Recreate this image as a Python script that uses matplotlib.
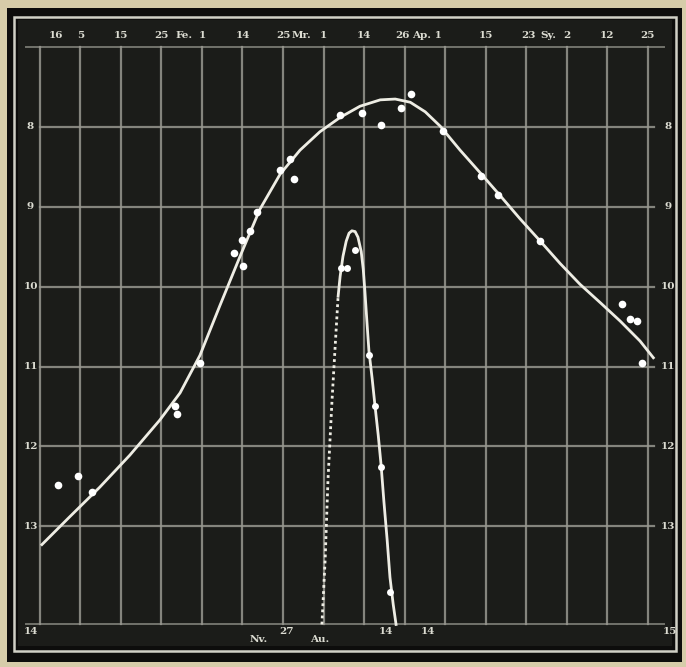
import matplotlib.pyplot as plt
from matplotlib.patches import Rectangle

# Lichtkurven: x in Tagen (10 Tage je Gitterfeld), y in Groessenklassen
mira_tag = [4.4, 9.4, 12.8, 33.3, 33.8, 39.5, 47.9, 50.1, 49.9, 51.9, 53.6,
            59.3, 61.7, 62.7, 74.1, 79.5, 84.2, 89.1, 91.6, 99.5, 108.9,
            113.1, 123.5, 143.7, 145.7, 147.4, 148.6]
mira_mag = [12.48, 12.37, 12.57, 11.49, 11.60, 10.95, 9.58, 9.74, 9.41, 9.30,
            9.06, 8.54, 8.40, 8.65, 7.85, 7.83, 7.98, 7.76, 7.59, 8.05, 8.61,
            8.85, 9.43, 10.22, 10.40, 10.43, 10.95]

mira_kurve_tag = [0.5, 7.4, 14.8, 22.2, 29.6, 34.6, 39.5, 44.4, 49.4, 54.3,
                  59.3, 64.2, 69.1, 74.1, 79.0, 84.0, 87.7, 91.4, 95.1, 98.8,
                  103.7, 108.6, 113.6, 118.5, 123.5, 128.4, 133.3, 138.3,
                  143.2, 148.1, 151.4]
mira_kurve_mag = [13.23, 12.88, 12.51, 12.11, 11.67, 11.33, 10.86, 10.24,
                  9.62, 9.03, 8.59, 8.29, 8.06, 7.88, 7.74, 7.66, 7.65, 7.69,
                  7.81, 7.99, 8.29, 8.57, 8.86, 9.15, 9.43, 9.71, 9.97, 10.20,
                  10.43, 10.68, 10.89]

nova_tag = [74.3, 75.8, 77.8, 81.2, 82.7, 84.2, 86.4]
nova_mag = [9.76, 9.76, 9.54, 10.86, 11.49, 12.26, 13.82]

# ansteigender Ast (nur vermutet, punktiert)
nova_anstieg_tag = [69.6, 70.4, 71.1, 72.1, 73.1, 73.6]
nova_anstieg_mag = [14.23, 13.42, 12.42, 11.42, 10.55, 10.12]

nova_kurve_tag = [73.6, 74.1, 74.8, 75.6, 76.3, 77.0, 77.8, 78.5, 79.3, 79.8,
                  80.2, 80.7, 81.2, 82.0, 82.7, 83.5, 84.2, 84.9, 85.7, 86.4,
                  87.2, 87.9]
nova_kurve_mag = [10.12, 9.87, 9.62, 9.43, 9.33, 9.30, 9.31, 9.38, 9.56, 9.78,
                  10.05, 10.43, 10.80, 11.15, 11.49, 11.86, 12.23, 12.69,
                  13.17, 13.64, 13.98, 14.23]

# Beschriftungen
groessen = [8, 9, 10, 11, 12, 13]
oben_tag = [4.0, 10.0, 20.0, 30.0, 35.5, 40.0, 50.0, 60.0, 64.5, 70.0, 80.0,
            89.5, 95.5, 110.0, 120.5, 125.5, 130.0, 140.0, 150.0]
oben_text = ['16', '5', '15', '25', 'Fe.', '1', '14', '25', 'Mr.', '1', '14',
             '26', 'Ap. 1', '15', '23', 'Sy.', '2', '12', '25']
unten_tag = [-2.2, 60.8, 85.5, 95.8, 155.5]
unten_text = ['14', '27', '14', '14', '15']

hell = '#eeede4'
gitter = '#97978f'

fig = plt.figure(figsize=(6.86, 6.67), dpi=100)
fig.patch.set_facecolor('#d6cca9')

# schwarzer Rahmen und weisse Randlinie
fig.patches.append(Rectangle((7 / 686, 1 - 662 / 667), 675 / 686, 654 / 667,
                             transform=fig.transFigure, facecolor='#0d0d0c',
                             edgecolor='none', zorder=-2))
fig.patches.append(Rectangle((14 / 686, 1 - 651 / 667), 662 / 686, 634 / 667,
                             transform=fig.transFigure, facecolor='none',
                             edgecolor='#d0d0c6', lw=1.8, zorder=-1))

ax = fig.add_axes([18 / 686, 1 - 646 / 667, 654 / 686, 626 / 667])
ax.set_facecolor('#1b1c19')
ax.set_xlim(-5.4, 156.0)
ax.set_ylim(14.50, 6.66)
ax.set_xticks([])
ax.set_yticks([])
for sp in ax.spines.values():
    sp.set_visible(False)

# Gitter
for t in range(0, 151, 10):
    ax.plot([t, t], [7.0, 14.23], color=gitter, lw=1.6, alpha=0.85, zorder=1)
for m in groessen:
    ax.plot([0, 151.5], [m, m], color=gitter, lw=1.6, alpha=0.85, zorder=1)
ax.plot([-3.5, 154], [7.0, 7.0], color=gitter, lw=1.4, alpha=0.7, zorder=1)
ax.plot([-3.5, 154], [14.23, 14.23], color=gitter, lw=1.4, alpha=0.7, zorder=1)

# Kurven
ax.plot(mira_kurve_tag, mira_kurve_mag, color=hell, lw=2.0, zorder=3,
        solid_joinstyle='round')
ax.plot(nova_kurve_tag, nova_kurve_mag, color=hell, lw=2.0, zorder=3,
        solid_joinstyle='round')
ax.plot(nova_anstieg_tag, nova_anstieg_mag, color=hell, lw=2.0,
        linestyle=(0, (1, 1.2)), zorder=3)

ax.plot(mira_tag, mira_mag, 'o', color='white', ms=5.5, mec='none', zorder=4)
ax.plot(nova_tag, nova_mag, 'o', color='white', ms=5.0, mec='none', zorder=4)

schrift = dict(color='#dcdcd2', fontsize=7.5, fontweight='bold',
               family='DejaVu Serif', ha='center', va='center', zorder=5)
for m in groessen:
    ax.text(-2.3, m, str(m), **schrift)
    ax.text(155.0, m, str(m), **schrift)
for t, s in zip(oben_tag, oben_text):
    ax.text(t, 6.86, s, **schrift)
for t, s in zip(unten_tag, unten_text):
    ax.text(t, 14.32, s, **schrift)
ax.text(54.0, 14.42, 'Nv.', **schrift)
ax.text(69.0, 14.42, 'Au.', **schrift)

fig.savefig('out.png', dpi=100, facecolor=fig.get_facecolor())
